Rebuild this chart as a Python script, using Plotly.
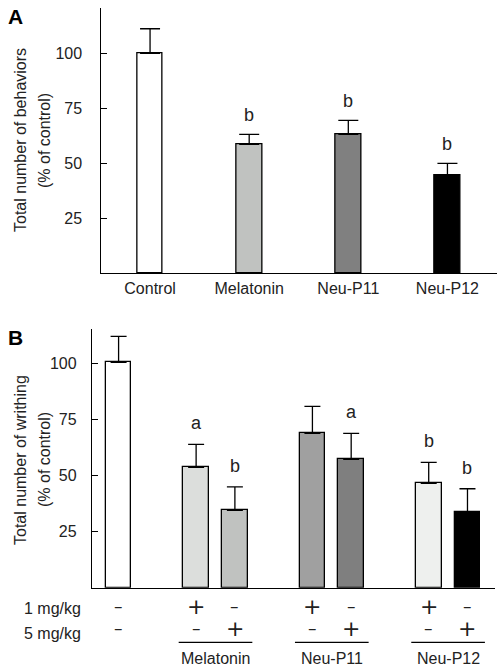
import plotly.graph_objects as go

# ---------------- data ----------------
A_categories = ["Control", "Melatonin", "Neu-P11", "Neu-P12"]
A_values = [100, 58.6, 63.2, 44.7]
A_errors = [11.2, 4.6, 6.3, 5.3]
A_sig = ["", "b", "b", "b"]
A_colors = ["#ffffff", "#c0c2c0", "#808080", "#000000"]

B_labels = ["Control", "Melatonin 1 mg/kg", "Melatonin 5 mg/kg", "Neu-P11 1 mg/kg",
            "Neu-P11 5 mg/kg", "Neu-P12 1 mg/kg", "Neu-P12 5 mg/kg"]
B_values = [100.4, 53.6, 34.5, 68.8, 57.2, 46.5, 33.6]
B_errors = [11.6, 10.3, 10.4, 12.0, 11.6, 9.4, 10.5]
B_sig = ["", "a", "b", "", "a", "b", "b"]
B_dose1 = ["–", "+", "–", "+", "–", "+", "–"]
B_dose5 = ["–", "–", "+", "–", "+", "–", "+"]
B_groups = ["Melatonin", "Neu-P11", "Neu-P12"]
B_colors = ["#ffffff", "#dcdedc", "#c0c2c0", "#a0a0a0", "#7f7f7f", "#eef0ee", "#000000"]

y_ticks = [25, 50, 75, 100]

# ---------------- layout helpers ----------------
W, H = 504, 671
FONT = "Liberation Sans, Arial, sans-serif"
SYM_FONT = "DejaVu Sans, sans-serif"
SYM_SIZE = {"+": 22, "–": 17}
TXT = "#222"


def px(x):
    return x / W


def py(y):
    return 1 - y / H


# slot positions for panel B: control, then two bars per group with a gap
B_x = [0]
for g in range(len(B_groups)):
    B_x += [2 + 3 * g, 3 + 3 * g]

fig = go.Figure()

fig.add_trace(go.Bar(
    x=A_categories, y=A_values, width=0.26,
    marker=dict(color=A_colors, line=dict(color="black", width=1.3)),
    error_y=dict(type="data", symmetric=False, array=A_errors, arrayminus=[0] * 4,
                 color="black", thickness=1.3, width=10),
    xaxis="x", yaxis="y", showlegend=False,
))

fig.add_trace(go.Bar(
    x=B_x, y=B_values, width=0.66,
    marker=dict(color=B_colors, line=dict(color="black", width=1.3)),
    error_y=dict(type="data", symmetric=False, array=B_errors, arrayminus=[0] * 7,
                 color="black", thickness=1.3, width=8),
    xaxis="x2", yaxis="y2", showlegend=False, hovertext=B_labels,
))

axis_common = dict(showline=True, linecolor="black", linewidth=1.3, showgrid=False,
                   zeroline=False, tickfont=dict(family=FONT, size=16, color=TXT))


def note(**kw):
    kw.setdefault("showarrow", False)
    kw.setdefault("xanchor", "center")
    kw.setdefault("yanchor", "middle")
    return kw


ann = []
# significance letters
for c, v, e, s in zip(A_categories, A_values, A_errors, A_sig):
    if s:
        ann.append(note(x=c, y=v + e, xref="x", yref="y", text=s,
                        yanchor="bottom", yshift=7, font=dict(family=FONT, size=18, color=TXT)))
for x, v, e, s in zip(B_x, B_values, B_errors, B_sig):
    if s:
        ann.append(note(x=x, y=v + e, xref="x2", yref="y2", text=s,
                        yanchor="bottom", yshift=9, font=dict(family=FONT, size=18, color=TXT)))

# dose rows
for x, d1, d5 in zip(B_x, B_dose1, B_dose5):
    ann.append(note(x=x, y=py(606), xref="x2", yref="paper", text=d1,
                    font=dict(family=SYM_FONT, size=SYM_SIZE[d1], color=TXT)))
    ann.append(note(x=x, y=py(628), xref="x2", yref="paper", text=d5,
                    font=dict(family=SYM_FONT, size=SYM_SIZE[d5], color=TXT)))
ann.append(note(x=px(83), y=py(608), xref="paper", yref="paper", text="1 mg/kg",
                xanchor="right", font=dict(family=FONT, size=16, color=TXT)))
ann.append(note(x=px(83), y=py(633), xref="paper", yref="paper", text="5 mg/kg",
                xanchor="right", font=dict(family=FONT, size=16, color=TXT)))

shapes = []
for g, name in enumerate(B_groups):
    centre = 2.5 + 3 * g
    shapes.append(dict(type="line", xref="x2", yref="paper", x0=centre - 0.95, x1=centre + 0.95,
                       y0=py(642.3), y1=py(642.3), line=dict(color="black", width=1.2)))
    ann.append(note(x=centre, y=py(658), xref="x2", yref="paper", text=name,
                    font=dict(family=FONT, size=16, color=TXT)))

# panel letters
ann.append(note(x=px(15), y=py(17), xref="paper", yref="paper", text="<b>A</b>",
                font=dict(family=FONT, size=21, color="black")))
ann.append(note(x=px(15), y=py(337), xref="paper", yref="paper", text="<b>B</b>",
                font=dict(family=FONT, size=21, color="black")))

# y-axis titles
for xc, yc, t in [(20, 140, "Total number of behaviors"), (45, 141, "(% of control)"),
                  (20, 460, "Total number of writhing"), (44, 460, "(% of control)")]:
    ann.append(note(x=px(xc), y=py(yc), xref="paper", yref="paper", text=t, textangle=-90,
                    font=dict(family=FONT, size=16, color=TXT)))

fig.update_layout(
    width=W, height=H, margin=dict(l=0, r=0, t=0, b=0),
    paper_bgcolor="white", plot_bgcolor="white", bargap=0,
    xaxis=dict(domain=[px(100.5), px(497)], range=[-0.5, 3.5], ticks="", **axis_common,
               anchor="y"),
    yaxis=dict(domain=[py(273.3), py(8.3)], range=[0, 120.5], tickvals=y_ticks,
               ticks="inside", ticklen=6, tickcolor="black", tickwidth=1.3,
               ticklabelstandoff=14, anchor="x", **axis_common),
    xaxis2=dict(domain=[px(92), px(495)], range=[-0.686, 9.71], showticklabels=False,
                ticks="", anchor="y2", **axis_common),
    yaxis2=dict(domain=[py(587.7), py(329)], range=[0, 115.3], tickvals=y_ticks,
                ticks="inside", ticklen=6, tickcolor="black", tickwidth=1.3,
                ticklabelstandoff=11, anchor="x2", **axis_common),
    annotations=ann, shapes=shapes,
)

fig.write_html("out.html", config={"displayModeBar": False},
               post_script="document.body.style.margin='0';")
